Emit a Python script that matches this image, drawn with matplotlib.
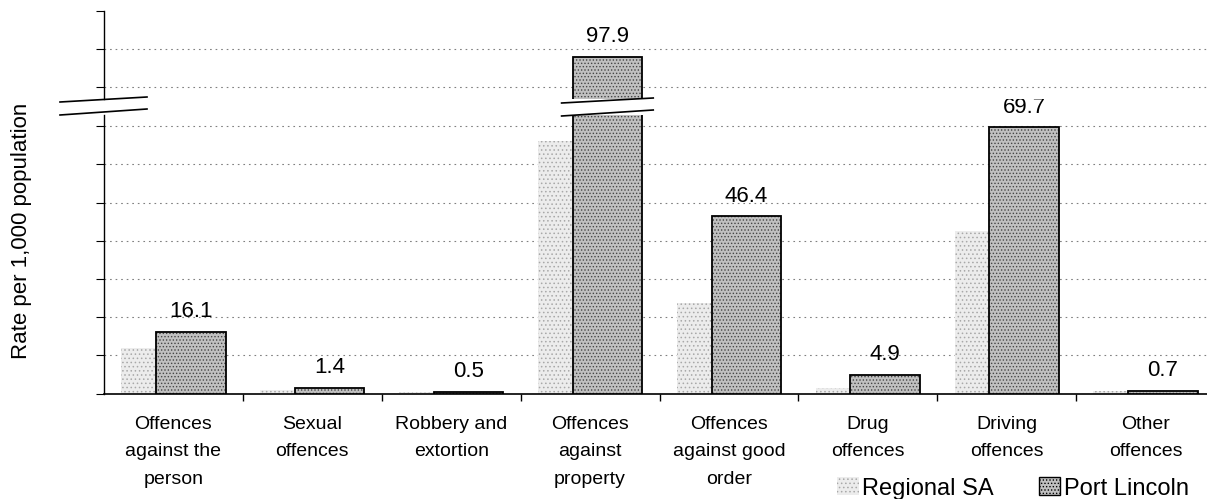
import numpy as np
import matplotlib.pyplot as plt
import matplotlib.transforms as mtransforms
from matplotlib.patches import Patch
from matplotlib.lines import Line2D

plt.rcParams['font.family'] = ['Liberation Sans', 'DejaVu Sans']
plt.rcParams['hatch.linewidth'] = 0.6

categories = ["Offences\nagainst the\nperson", "Sexual\noffences", "Robbery and\nextortion",
              "Offences\nagainst\nproperty", "Offences\nagainst good\norder", "Drug\noffences",
              "Driving\noffences", "Other\noffences"]
regional_sa = [11.8, 0.8, 0.3, 66.0, 23.8, 1.5, 42.5, 0.6]
port_lincoln = [16.1, 1.4, 0.5, 97.9, 46.4, 4.9, 69.7, 0.7]
lower_ticks = [0, 10, 20, 30, 40, 50, 60, 70]
upper_ticks = [90, 100, 110]

W, H = 1207, 499
fig = plt.figure(figsize=(W / 100, H / 100), dpi=100)

# broken y axis: two axes sharing one scale (px per unit)
ppu = 3.82
bot_lim = (0, 73)
top_lim = (87, 110)
left_px, right_px = 104, 1215
base_px = 393.5
top_px = 11
ax_bot = fig.add_axes([left_px / W, (H - base_px) / H, (right_px - left_px) / W,
                       (bot_lim[1] - bot_lim[0]) * ppu / H])
ax_top = fig.add_axes([left_px / W, (H - top_px - (top_lim[1] - top_lim[0]) * ppu) / H,
                       (right_px - left_px) / W, (top_lim[1] - top_lim[0]) * ppu / H])

x = np.arange(len(categories))
for ax in (ax_bot, ax_top):
    ax.bar(x - 0.125, regional_sa, 0.5, color='#ececec', edgecolor='#a8a8a8',
           hatch='....', linewidth=0, zorder=2)
    ax.bar(x + 0.125, port_lincoln, 0.5, color='#c0c0c0', edgecolor='#454545',
           hatch='.....', linewidth=0, zorder=3)
    ax.bar(x + 0.125, port_lincoln, 0.5, fill=False, edgecolor='black',
           linewidth=1.3, zorder=4)
    ax.set_xlim(-0.5, 7.5)
    ax.spines[['top', 'right']].set_visible(False)
    ax.yaxis.grid(True, color='#808080', linestyle=(0, (1.5, 3.5)), linewidth=0.8)
    ax.set_axisbelow(True)
    ax.tick_params(axis='y', direction='out', length=6, width=0.8, labelleft=False)

ax_bot.set_ylim(*bot_lim)
ax_bot.set_yticks(lower_ticks)
ax_top.set_ylim(*top_lim)
ax_top.set_yticks(upper_ticks)
ax_top.get_ygridlines()[-1].set_visible(False)
ax_top.spines['bottom'].set_visible(False)
ax_top.xaxis.set_visible(False)

ax_bot.set_xticks(x, categories, fontsize=14, linespacing=1.8)
ax_bot.set_xticks(x[:-1] + 0.5, minor=True)
ax_bot.tick_params(axis='x', which='major', length=0, pad=16)
ax_bot.tick_params(axis='x', which='minor', length=5, width=1, direction='out')
ax_bot.spines['bottom'].set_linewidth(1.2)
ax_bot.spines['left'].set_linewidth(1.0)
ax_top.spines['left'].set_linewidth(1.0)

for i, v in enumerate(port_lincoln):
    ax = ax_top if v > bot_lim[1] else ax_bot
    ax.annotate(f"{v:.1f}", (i + 0.125, v), xytext=(0, 7), textcoords='offset points',
                ha='center', va='bottom', fontsize=16, zorder=5)

# break marks
def fig_line(x0, y0, x1, y1):
    fig.add_artist(Line2D([x0 / W, x1 / W], [1 - y0 / H, 1 - y1 / H],
                          transform=fig.transFigure, color='black', lw=1.2))

fig_line(60, 102, 147, 97)
fig_line(60, 115, 147, 109)
brk = int(np.argmax(port_lincoln))
trans = mtransforms.blended_transform_factory(ax_bot.transData, fig.transFigure)
for y0, y1 in [(103, 98), (116, 110)]:
    fig.add_artist(Line2D([brk + 0.125 - 0.33, brk + 0.125 + 0.33], [1 - y0 / H, 1 - y1 / H],
                          transform=trans, color='black', lw=1.2))

fig.text(22 / W, 1 - 231 / H, "Rate per 1,000 population", rotation=90,
         ha='center', va='center', fontsize=16)

handles = [Patch(facecolor='#ececec', edgecolor='#a8a8a8', hatch='....', linewidth=0),
           Patch(facecolor='#c0c0c0', edgecolor='black', hatch='.....', linewidth=1.0)]
fig.legend(handles, ["Regional SA", "Port Lincoln"], loc='lower right',
           bbox_to_anchor=(1198 / W, -0.02), ncol=2, frameon=False, fontsize=17,
           handlelength=0.9, handleheight=0.8, handletextpad=0.15, columnspacing=1.9,
           borderaxespad=0)

fig.savefig("out.png", dpi=100)
